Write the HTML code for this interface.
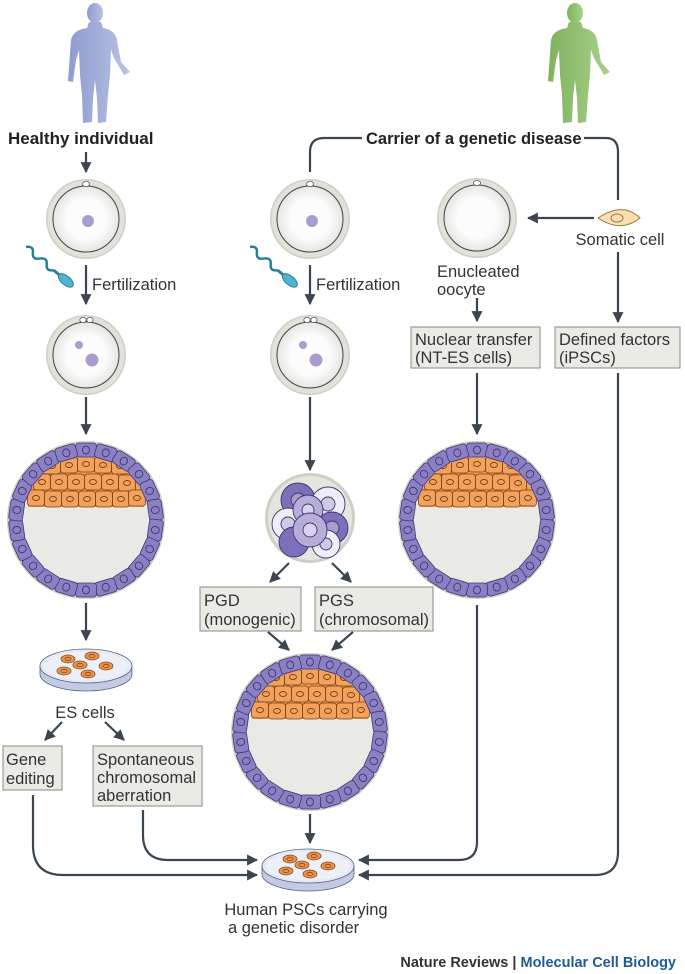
<!DOCTYPE html>
<html><head><meta charset="utf-8"><style>
html,body{margin:0;padding:0;background:#fff;}
svg{display:block;}
text{font-family:"Liberation Sans",sans-serif;fill:#333;}
</style></head><body>
<svg width="685" height="974" viewBox="0 0 685 974" xmlns="http://www.w3.org/2000/svg" xmlns:xlink="http://www.w3.org/1999/xlink">
<defs>
<marker id="ah" viewBox="0 0 10 10" refX="9" refY="5" markerWidth="5" markerHeight="5" orient="auto"><path d="M0,0 L10,5 L0,10 z" fill="#3b4650"/></marker>
<linearGradient id="gb" x1="0" x2="1"><stop offset="0" stop-color="#8e9cd0"/><stop offset="1" stop-color="#b9c2e2"/></linearGradient>
<linearGradient id="gg" x1="0" x2="1"><stop offset="0" stop-color="#7fb35c"/><stop offset="1" stop-color="#a9d08e"/></linearGradient>
<radialGradient id="og"><stop offset="0.6" stop-color="#fcfcfc"/><stop offset="1" stop-color="#e6e6e3"/></radialGradient>
<clipPath id="icmc"><circle r="63"/></clipPath>
<g id="fig">
<ellipse cx="95" cy="13" rx="8" ry="10"/>
<path d="M89,22 L101,22 L103,28 Q115,30 117,40 L121,62 L130,72 L124,75 L114,58 L111,50 L110,75 L108,95 L106,122 L98,123 L97,98 L95,80 L93,98 L92,122 L83,123 L82,95 L80,75 L79,50 L76,60 L73,82 L68,81 L71,40 Q73,30 87,28 Z"/>
</g>
<g id="oo">
<circle r="40" fill="#cfcfc6"/><circle r="38.5" fill="#e2e2da"/>
<circle r="33" fill="url(#og)" stroke="#444" stroke-width="1"/>
</g>
<g id="tc"><rect x="-10.5" y="-77" width="21" height="14" rx="3" fill="#8c80c4" stroke="#3f3670" stroke-width="0.8"/><ellipse cx="0" cy="-70" rx="3.5" ry="4" fill="none" stroke="#3f3670" stroke-width="0.9"/></g>
<g id="ic"><rect x="-8.5" y="-8" width="17" height="16" rx="3" fill="#f2a25c" stroke="#7a3f10" stroke-width="0.8"/><ellipse cx="0" cy="0" rx="3.5" ry="2.5" fill="none" stroke="#7a3f10" stroke-width="0.9"/></g>
<g id="bl">
<circle r="79" fill="#cfcfc6"/><circle r="76" fill="#efefea"/>
<circle r="63" fill="#e9e9e6"/>
<g clip-path="url(#icmc)">
<path d="M-58,-13 L58,-13 L62,-70 L-62,-70 Z" fill="#f2a25c"/>
<use href="#ic" x="-34" y="-54"/><use href="#ic" x="-17" y="-55"/><use href="#ic" x="0" y="-56"/><use href="#ic" x="17" y="-55"/><use href="#ic" x="34" y="-54"/>
<use href="#ic" x="-44" y="-38"/><use href="#ic" x="-27" y="-38"/><use href="#ic" x="-10" y="-38"/><use href="#ic" x="7" y="-38"/><use href="#ic" x="24" y="-38"/><use href="#ic" x="41" y="-37"/>
<use href="#ic" x="-50" y="-22"/><use href="#ic" x="-33" y="-21"/><use href="#ic" x="-16" y="-21"/><use href="#ic" x="1" y="-21"/><use href="#ic" x="18" y="-21"/><use href="#ic" x="35" y="-21"/><use href="#ic" x="51" y="-22"/>
</g>
<use href="#tc" transform="rotate(0)"/><use href="#tc" transform="rotate(16.4)"/><use href="#tc" transform="rotate(32.7)"/><use href="#tc" transform="rotate(49.1)"/><use href="#tc" transform="rotate(65.5)"/><use href="#tc" transform="rotate(81.8)"/><use href="#tc" transform="rotate(98.2)"/><use href="#tc" transform="rotate(114.5)"/><use href="#tc" transform="rotate(130.9)"/><use href="#tc" transform="rotate(147.3)"/><use href="#tc" transform="rotate(163.6)"/><use href="#tc" transform="rotate(180)"/><use href="#tc" transform="rotate(196.4)"/><use href="#tc" transform="rotate(212.7)"/><use href="#tc" transform="rotate(229.1)"/><use href="#tc" transform="rotate(245.5)"/><use href="#tc" transform="rotate(261.8)"/><use href="#tc" transform="rotate(278.2)"/><use href="#tc" transform="rotate(294.5)"/><use href="#tc" transform="rotate(310.9)"/><use href="#tc" transform="rotate(327.3)"/><use href="#tc" transform="rotate(343.6)"/>
</g>
<g id="dc"><ellipse rx="7" ry="4" fill="#e8934c" stroke="#8a4a1a" stroke-width="0.8"/><ellipse rx="3" ry="1.7" fill="none" stroke="#8a4a1a" stroke-width="0.8"/></g>
<g id="dish">
<path d="M-46,0 L-46,8 A46,17 0 0 0 46,8 L46,0 Z" fill="#c3cbe4" stroke="#55607a" stroke-width="0.8"/>
<ellipse rx="46" ry="17" fill="#e6eaf5" stroke="#55607a" stroke-width="0.8"/>
<ellipse rx="42" ry="14" fill="#eef0f8"/>
<use href="#dc" x="-18" y="-7"/><use href="#dc" x="6" y="-10"/><use href="#dc" x="-6" y="-1"/><use href="#dc" x="20" y="0"/><use href="#dc" x="-22" y="5"/><use href="#dc" x="2" y="8"/>
</g>
<path id="sp" d="M0,0 q5,-6 9,0 t9,0 t9,0 t9,0" fill="none" stroke="#2a7e9a" stroke-width="2.5"/>
</defs>

<use href="#fig" fill="url(#gb)"/>
<use href="#fig" x="480" fill="url(#gg)"/>

<text x="8" y="144" font-size="17" font-weight="bold" style="fill:#222">Healthy individual</text>
<text x="366" y="144" font-size="16.5" font-weight="bold" style="fill:#222">Carrier of a genetic disease</text>

<g stroke="#3b4650" stroke-width="2.2" fill="none">
<line x1="86" y1="152" x2="86" y2="172" marker-end="url(#ah)"/>
<line x1="86" y1="265" x2="86" y2="304" marker-end="url(#ah)"/>
<line x1="86" y1="397" x2="86" y2="434" marker-end="url(#ah)"/>
<line x1="86" y1="603" x2="86" y2="640" marker-end="url(#ah)"/>
<line x1="62" y1="722" x2="45" y2="740" marker-end="url(#ah)"/>
<line x1="105" y1="722" x2="124" y2="740" marker-end="url(#ah)"/>
<path d="M33,795 L33,845 Q33,875 63,875 L257,875" marker-end="url(#ah)"/>
<path d="M143,810 L143,835 Q143,860 168,860 L257,860" marker-end="url(#ah)"/>
<path d="M310,172 L310,152 Q310,138 324,138 L362,138"/>
<path d="M584,138 L606,138 Q618,138 618,152 L618,200"/>
<line x1="310" y1="265" x2="310" y2="304" marker-end="url(#ah)"/>
<line x1="310" y1="397" x2="310" y2="470" marker-end="url(#ah)"/>
<line x1="289" y1="563" x2="270" y2="582" marker-end="url(#ah)"/>
<line x1="332" y1="563" x2="351" y2="582" marker-end="url(#ah)"/>
<line x1="268" y1="632" x2="289" y2="650" marker-end="url(#ah)"/>
<line x1="353" y1="632" x2="332" y2="650" marker-end="url(#ah)"/>
<line x1="310" y1="814" x2="310" y2="843" marker-end="url(#ah)"/>
<line x1="594" y1="218" x2="528" y2="218" marker-end="url(#ah)"/>
<line x1="477" y1="298" x2="477" y2="321" marker-end="url(#ah)"/>
<line x1="477" y1="373" x2="477" y2="434" marker-end="url(#ah)"/>
<path d="M477,605 L477,842 Q477,860 459,860 L359,860" marker-end="url(#ah)"/>
<line x1="618" y1="252" x2="618" y2="322" marker-end="url(#ah)"/>
<path d="M618,373 L618,852 Q618,875 595,875 L359,875" marker-end="url(#ah)"/>
</g>

<g transform="translate(86,219)"><use href="#oo"/><ellipse cx="0" cy="-35" rx="3.5" ry="2.5" fill="#fff" stroke="#555" stroke-width="0.8"/><circle cx="2" cy="2" r="6" fill="#a99ccf"/></g>
<g transform="translate(310,219)"><use href="#oo"/><ellipse cx="0" cy="-35" rx="3.5" ry="2.5" fill="#fff" stroke="#555" stroke-width="0.8"/><circle cx="2" cy="2" r="6" fill="#a99ccf"/></g>
<g transform="translate(477,218)"><use href="#oo"/><ellipse cx="0" cy="-35" rx="3.5" ry="2.5" fill="#fff" stroke="#555" stroke-width="0.8"/></g>
<g transform="translate(86,355)"><use href="#oo"/><ellipse cx="-3" cy="-35" rx="3.2" ry="2.5" fill="#fff" stroke="#555" stroke-width="0.8"/><ellipse cx="4" cy="-35" rx="3.2" ry="2.5" fill="#fff" stroke="#555" stroke-width="0.8"/><circle cx="-7" cy="-10" r="4" fill="#a99ccf"/><circle cx="6" cy="5" r="6.5" fill="#a99ccf"/></g>
<g transform="translate(310,355)"><use href="#oo"/><ellipse cx="-3" cy="-35" rx="3.2" ry="2.5" fill="#fff" stroke="#555" stroke-width="0.8"/><ellipse cx="4" cy="-35" rx="3.2" ry="2.5" fill="#fff" stroke="#555" stroke-width="0.8"/><circle cx="-7" cy="-10" r="4" fill="#a99ccf"/><circle cx="6" cy="5" r="6.5" fill="#a99ccf"/></g>

<g transform="translate(26,247) rotate(40)"><use href="#sp"/><line x1="36" y1="0" x2="44" y2="0" stroke="#2a7e9a" stroke-width="3"/><ellipse cx="52" cy="0" rx="9" ry="4.5" fill="#4fb3d0" stroke="#2a7e9a"/></g>
<g transform="translate(250,247) rotate(40)"><use href="#sp"/><line x1="36" y1="0" x2="44" y2="0" stroke="#2a7e9a" stroke-width="3"/><ellipse cx="52" cy="0" rx="9" ry="4.5" fill="#4fb3d0" stroke="#2a7e9a"/></g>

<text x="92" y="290" font-size="16.5">Fertilization</text>
<text x="316" y="290" font-size="16.5">Fertilization</text>

<use href="#bl" transform="translate(86,520)"/>
<use href="#bl" transform="translate(310,732)"/>
<use href="#bl" transform="translate(477,520)"/>

<g transform="translate(310,518)" stroke="#3f3670" stroke-width="0.9">
<circle r="45" fill="#cfcfc6" stroke="none"/><circle r="42" fill="#e6e6e0" stroke="none"/>
<circle cx="-12" cy="-18" r="17" fill="#7d6fb8"/><circle cx="-12" cy="-18" r="7" fill="#a99ccf"/>
<circle cx="18" cy="-14" r="17" fill="#efeef8"/><circle cx="18" cy="-14" r="7" fill="#cfc9e8"/>
<circle cx="-22" cy="6" r="16" fill="#efeef8"/><circle cx="-22" cy="6" r="7" fill="#cfc9e8"/>
<circle cx="-2" cy="-8" r="15" fill="#b7add9"/><circle cx="-2" cy="-8" r="6" fill="#d8d2ee"/>
<circle cx="22" cy="10" r="16" fill="#7d6fb8"/><circle cx="22" cy="10" r="7" fill="#a99ccf"/>
<circle cx="-16" cy="24" r="15" fill="#7d6fb8"/>
<circle cx="16" cy="26" r="14" fill="#efeef8"/><circle cx="16" cy="26" r="6" fill="#cfc9e8"/>
<circle cx="0" cy="12" r="17" fill="#b7add9"/><circle cx="0" cy="12" r="7" fill="#d8d2ee"/>
</g>

<g transform="translate(618,218)"><path d="M-20,0 Q-5,-10 8,-8 Q16,-6 22,0 Q16,5 8,7 Q-5,10 -20,0 Z" fill="#f8deb0" stroke="#9a7a40"/><ellipse cx="-1" cy="0" rx="6" ry="4" fill="#f8deb0" stroke="#9a7a40"/></g>
<text x="620" y="245" font-size="16.5" text-anchor="middle">Somatic cell</text>
<text x="437" y="277" font-size="16.5">Enucleated</text>
<text x="437" y="295" font-size="16.5">oocyte</text>

<g fill="#ebebe5" stroke="#8a8a86" stroke-width="1">
<rect x="411" y="327" width="129" height="41"/>
<rect x="555" y="327" width="125" height="41"/>
<rect x="200" y="587" width="101" height="44"/>
<rect x="315" y="587" width="118" height="44"/>
<rect x="3" y="746" width="59" height="44"/>
<rect x="93" y="746" width="109" height="60"/>
</g>
<text font-size="16.5"><tspan x="415" y="345">Nuclear transfer</tspan><tspan x="415" y="363">(NT-ES cells)</tspan></text>
<text font-size="16.5"><tspan x="559" y="345">Defined factors</tspan><tspan x="559" y="363">(iPSCs)</tspan></text>
<text font-size="16.5"><tspan x="204" y="606">PGD</tspan><tspan x="204" y="625">(monogenic)</tspan></text>
<text font-size="16.5"><tspan x="319" y="606">PGS</tspan><tspan x="319" y="625">(chromosomal)</tspan></text>
<text font-size="16.5"><tspan x="6" y="765">Gene</tspan><tspan x="6" y="784">editing</tspan></text>
<text font-size="16.5"><tspan x="97" y="765">Spontaneous</tspan><tspan x="97" y="783">chromosomal</tspan><tspan x="97" y="801">aberration</tspan></text>

<use href="#dish" transform="translate(86,666)"/>
<text x="85" y="718" font-size="16.5" text-anchor="middle">ES cells</text>
<use href="#dish" transform="translate(308,866)"/>
<text x="306" y="915" font-size="16.5" text-anchor="middle">Human PSCs carrying</text>
<text x="228" y="933" font-size="16.5">a genetic disorder</text>

<text x="676" y="967" font-size="14.5" font-weight="bold" text-anchor="end"><tspan style="fill:#333">Nature Reviews</tspan><tspan style="fill:#333"> | </tspan><tspan style="fill:#1f5a96">Molecular Cell Biology</tspan></text>
</svg>
</body></html>
